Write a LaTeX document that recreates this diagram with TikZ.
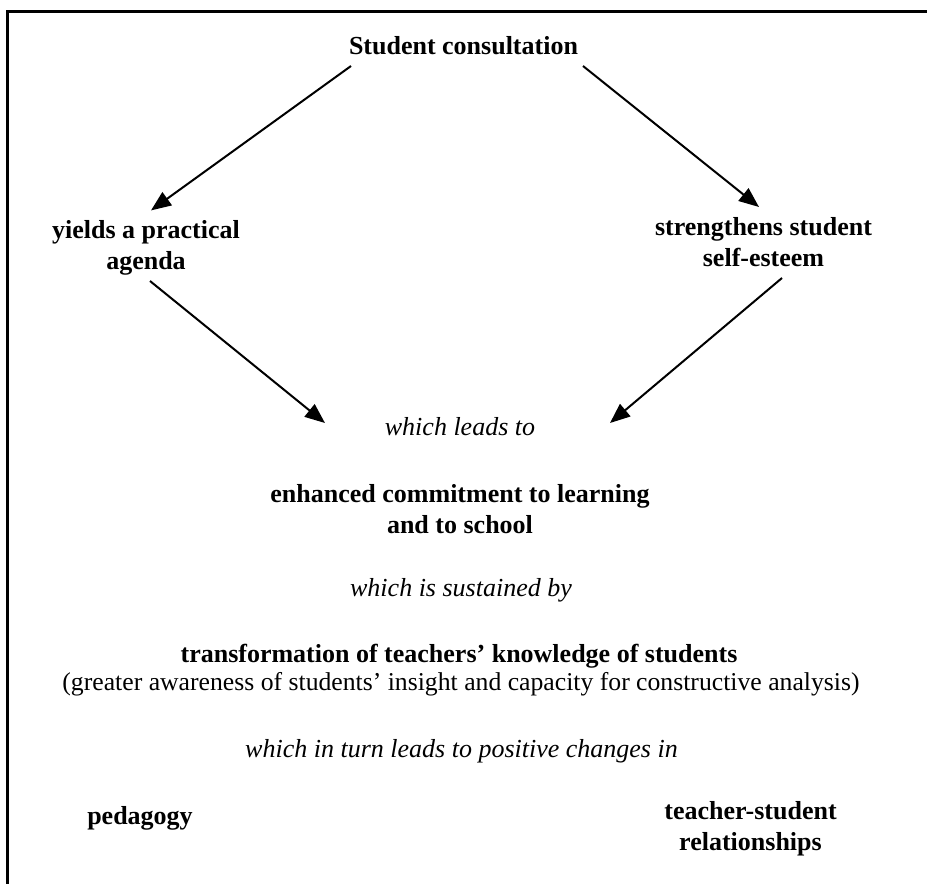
\documentclass[tikz,border=0pt]{standalone}
\usepackage{fontspec}
\setmainfont{Liberation Serif}
\usetikzlibrary{arrows.meta,calc}
\begin{document}
\begin{tikzpicture}[x=1pt,y=-1pt,
  every node/.style={inner sep=0pt,outer sep=0pt,font=\fontsize{26}{31}\selectfont},
  boldtxt/.style={font=\fontsize{26}{31}\selectfont\bfseries,align=center},
  ittxt/.style={font=\fontsize{26}{31}\selectfont\itshape},
  plaintxt/.style={font=\fontsize{25.7}{31}\selectfont},
  conn/.style={line width=2pt,-{Triangle[length=20pt,width=16pt]}},
  frameline/.style={line width=2.4pt}]
\useasboundingbox (0,0) rectangle (927,884);
\draw[frameline] (7.5,884) -- (7.5,11.5) -- (927,11.5);

\node[boldtxt,anchor=base] (sc) at (463.5,54) {Student consultation};
\node[boldtxt,anchor=north] (ya) at (146,220.4) {yields a practical\\agenda};
\node[boldtxt,anchor=north] (ss) at (763.5,217.4) {strengthens student\\self-esteem};
\node[ittxt,anchor=base] (wl) at (460,435) {which leads to};
\node[boldtxt,anchor=north] (ec) at (460,484.4) {enhanced commitment to learning\\and to school};
\node[ittxt,anchor=base] (ws) at (461,596) {which is sustained by};
\node[boldtxt,anchor=base] (tk) at (459,662) {transformation of teachers’ knowledge of students};
\node[plaintxt,anchor=base] (ga) at (461,690) {(greater awareness of students’ insight and capacity for constructive analysis)};
\node[ittxt,anchor=base] (wt) at (461.5,757) {which in turn leads to positive changes in};
\node[boldtxt,anchor=base] (pe) at (140,824) {pedagogy};
\node[boldtxt,anchor=north] (tr) at (750.5,801.4) {teacher-student\\relationships};

\draw[conn] ($(sc.base)+(-112.5,12)$) -- ($(ya.north)+(5,-10)$);
\draw[conn] ($(sc.base)+(119.5,12)$) -- ($(ss.north)+(-4.5,-10.4)$);
\draw[conn] ($(ya.north)+(4,60.6)$) -- ($(wl.base)+(-135,-12)$);
\draw[conn] ($(ss.north)+(18.5,60.6)$) -- ($(wl.base)+(150,-12)$);
\end{tikzpicture}
\end{document}
